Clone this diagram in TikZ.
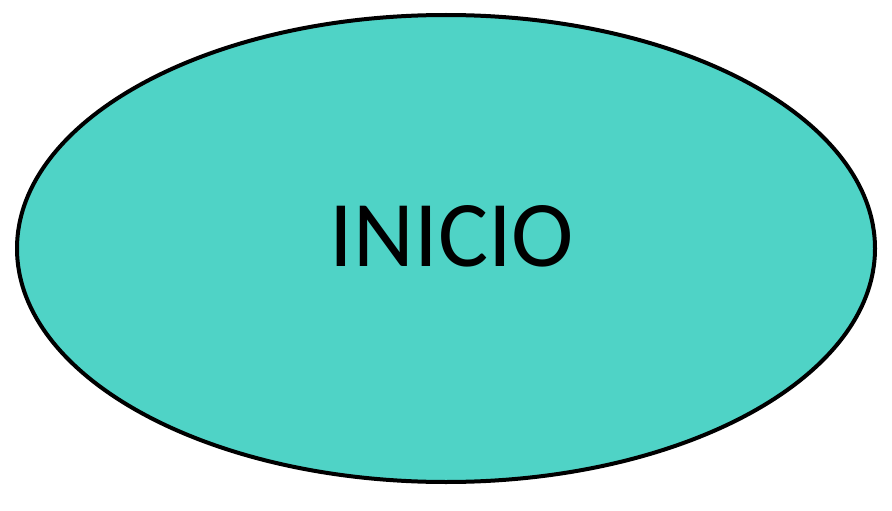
\documentclass[tikz,border=0pt]{standalone}
\usepackage{fontspec}
\setmainfont{Carlito}
\definecolor{tealfill}{HTML}{4FD3C6}
\tikzset{startshape/.style={draw=black, line width=4pt, fill=tealfill}}
\begin{document}
\begin{tikzpicture}[x=1pt,y=-1pt]
\useasboundingbox (0,0) rectangle (892,511);
\draw[startshape] (446,248.5) ellipse [x radius=429, y radius=233.5];
\node[inner sep=0pt, font=\fontsize{94}{108}\selectfont] (t) at (452,236) {INICIO};
\end{tikzpicture}
\end{document}
